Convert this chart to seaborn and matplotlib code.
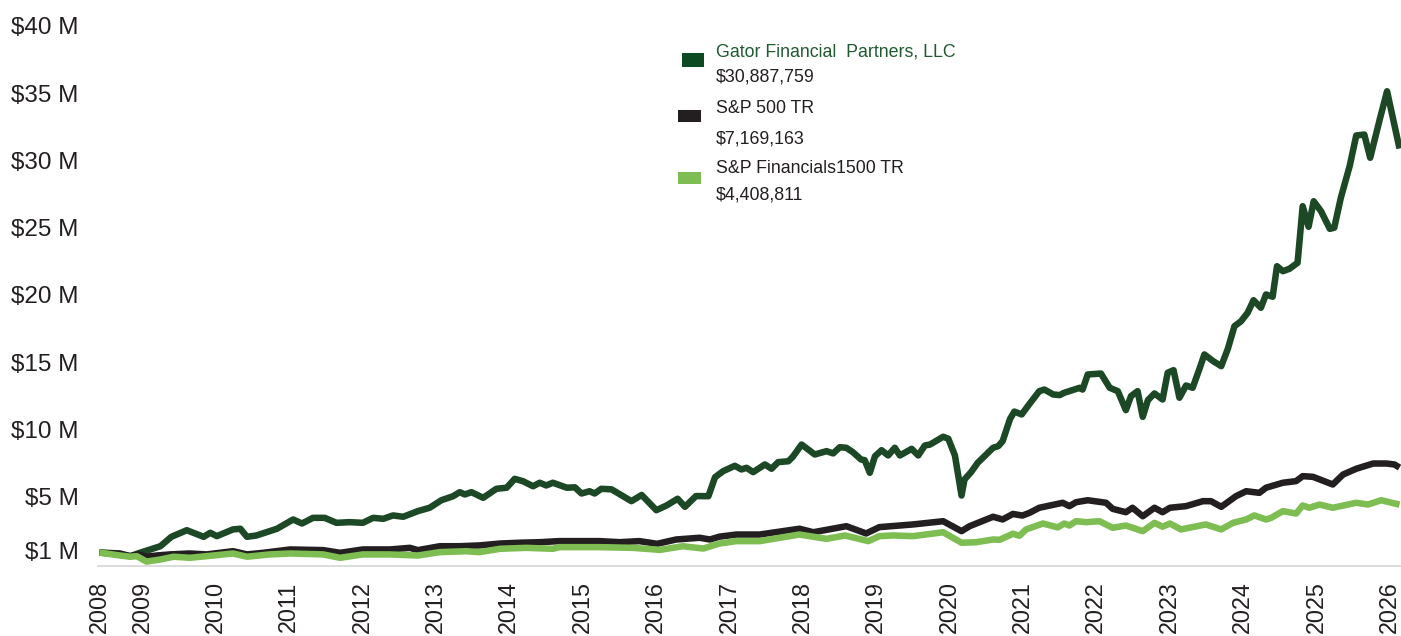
import matplotlib
matplotlib.use("Agg")
import matplotlib.pyplot as plt
from matplotlib.patches import Rectangle
from matplotlib import font_manager
import seaborn as sns
import pandas as pd

# ---------------- data (values in $ millions, x in decimal years) ----------------
gator_x = [2008.42, 2008.70, 2008.84, 2008.97, 2009.25, 2009.40, 2009.61, 2009.84, 2009.93, 2010.02,
           2010.24, 2010.34, 2010.43, 2010.56, 2010.84, 2011.06, 2011.18, 2011.33, 2011.49, 2011.65,
           2011.83, 2012.01, 2012.15, 2012.29, 2012.42, 2012.56, 2012.76, 2012.92, 2013.08, 2013.24,
           2013.33, 2013.40, 2013.49, 2013.65, 2013.83, 2013.97, 2014.08, 2014.19, 2014.33, 2014.42,
           2014.51, 2014.60, 2014.79, 2014.90, 2014.99, 2015.10, 2015.17, 2015.26, 2015.40, 2015.54,
           2015.67, 2015.81, 2016.01, 2016.15, 2016.30, 2016.40, 2016.55, 2016.72, 2016.81, 2016.92,
           2017.08, 2017.17, 2017.24, 2017.33, 2017.49, 2017.58, 2017.67, 2017.81, 2017.87, 2017.99,
           2018.17, 2018.33, 2018.42, 2018.51, 2018.60, 2018.69, 2018.80, 2018.85, 2018.92, 2018.99,
           2019.08, 2019.17, 2019.26, 2019.33, 2019.49, 2019.58, 2019.67, 2019.74, 2019.92, 2019.99,
           2020.08, 2020.17, 2020.21, 2020.30, 2020.39, 2020.60, 2020.67, 2020.73, 2020.83, 2020.89,
           2020.99, 2021.10, 2021.23, 2021.30, 2021.42, 2021.51, 2021.57, 2021.78, 2021.82, 2021.89,
           2022.07, 2022.19, 2022.30, 2022.41, 2022.48, 2022.57, 2022.64, 2022.71, 2022.80, 2022.91,
           2022.98, 2023.06, 2023.14, 2023.23, 2023.32, 2023.41, 2023.48, 2023.60, 2023.71, 2023.80,
           2023.89, 2023.98, 2024.07, 2024.15, 2024.25, 2024.32, 2024.41, 2024.47, 2024.55, 2024.64,
           2024.75, 2024.82, 2024.90, 2024.97, 2025.07, 2025.19, 2025.25, 2025.34, 2025.46, 2025.55,
           2025.66, 2025.74, 2025.87, 2025.97, 2026.14]
gator_v = [0.85, 0.71, 0.58, 0.83, 1.32, 2.02, 2.51, 2.02, 2.32, 2.07,
           2.57, 2.62, 2.02, 2.12, 2.62, 3.31, 3.01, 3.43, 3.43, 3.06,
           3.11, 3.06, 3.43, 3.36, 3.61, 3.51, 3.93, 4.18, 4.74, 5.04,
           5.34, 5.17, 5.34, 4.92, 5.59, 5.67, 6.33, 6.16, 5.78, 6.04,
           5.84, 6.04, 5.67, 5.70, 5.24, 5.41, 5.24, 5.59, 5.55, 5.09,
           4.67, 5.13, 4.00, 4.35, 4.85, 4.25, 5.05, 5.04, 6.45, 6.90,
           7.30, 7.03, 7.15, 6.83, 7.40, 7.08, 7.57, 7.64, 7.97, 8.88,
           8.14, 8.39, 8.22, 8.68, 8.64, 8.31, 7.77, 7.72, 6.78, 8.01,
           8.46, 8.07, 8.64, 8.07, 8.56, 8.07, 8.81, 8.88, 9.46, 9.31,
           8.07, 5.09, 6.28, 6.83, 7.52, 8.64, 8.76, 9.13, 10.77, 11.33,
           11.12, 11.93, 12.85, 12.97, 12.60, 12.56, 12.73, 13.10, 12.97, 14.09,
           14.16, 13.10, 12.85, 11.44, 12.48, 12.85, 10.94, 12.18, 12.68, 12.23,
           14.22, 14.41, 12.36, 13.27, 13.10, 14.46, 15.58, 15.08, 14.71, 16.00,
           17.68, 18.05, 18.68, 19.61, 19.05, 20.04, 19.87, 22.14, 21.77, 21.95,
           22.39, 26.60, 25.07, 26.97, 26.23, 24.92, 25.00, 27.23, 29.58, 31.86,
           31.93, 30.20, 33.05, 35.15, 30.89]

sp500_x = [2008.42, 2008.70, 2008.84, 2008.95, 2009.06, 2009.20, 2009.38, 2009.65, 2009.88, 2010.24,
           2010.43, 2010.65, 2011.02, 2011.47, 2011.70, 2012.01, 2012.38, 2012.65, 2012.76, 2013.06,
           2013.33, 2013.60, 2013.88, 2014.15, 2014.42, 2014.69, 2014.97, 2015.24, 2015.51, 2015.78,
           2016.02, 2016.28, 2016.60, 2016.74, 2016.87, 2017.10, 2017.42, 2017.96, 2018.15, 2018.60,
           2018.87, 2019.05, 2019.51, 2019.92, 2020.17, 2020.28, 2020.60, 2020.73, 2020.87, 2021.00,
           2021.10, 2021.23, 2021.55, 2021.64, 2021.73, 2021.89, 2022.14, 2022.23, 2022.41, 2022.50,
           2022.64, 2022.80, 2022.91, 2023.01, 2023.23, 2023.46, 2023.57, 2023.71, 2023.91, 2024.05,
           2024.23, 2024.32, 2024.55, 2024.73, 2024.82, 2024.96, 2025.23, 2025.37, 2025.55, 2025.78,
           2025.96, 2026.07, 2026.14]
sp500_v = [0.85, 0.78, 0.58, 0.71, 0.54, 0.63, 0.71, 0.78, 0.71, 0.95,
           0.71, 0.83, 1.08, 1.03, 0.83, 1.08, 1.08, 1.20, 1.03, 1.32,
           1.32, 1.38, 1.52, 1.58, 1.62, 1.70, 1.70, 1.70, 1.62, 1.70,
           1.50, 1.82, 1.95, 1.82, 2.03, 2.19, 2.19, 2.62, 2.36, 2.81,
           2.27, 2.74, 2.94, 3.18, 2.44, 2.81, 3.51, 3.31, 3.72, 3.60,
           3.81, 4.18, 4.55, 4.30, 4.59, 4.74, 4.55, 4.10, 3.85, 4.18,
           3.55, 4.18, 3.85, 4.18, 4.30, 4.67, 4.67, 4.25, 5.04, 5.41,
           5.29, 5.67, 6.04, 6.16, 6.53, 6.48, 5.91, 6.65, 7.08, 7.47,
           7.47, 7.40, 7.17]

fin_x = [2008.42, 2008.70, 2008.84, 2008.93, 2009.06, 2009.25, 2009.43, 2009.65, 2009.88, 2010.24,
         2010.43, 2010.74, 2011.02, 2011.47, 2011.70, 2012.01, 2012.38, 2012.76, 2013.06, 2013.42,
         2013.60, 2013.88, 2014.24, 2014.60, 2014.69, 2015.24, 2015.69, 2016.06, 2016.37, 2016.65,
         2016.87, 2017.10, 2017.42, 2017.96, 2018.33, 2018.58, 2018.90, 2019.05, 2019.24, 2019.51,
         2019.92, 2020.17, 2020.37, 2020.60, 2020.69, 2020.87, 2020.96, 2021.05, 2021.28, 2021.48,
         2021.57, 2021.64, 2021.73, 2021.87, 2022.05, 2022.23, 2022.41, 2022.64, 2022.80, 2022.91,
         2023.01, 2023.16, 2023.50, 2023.71, 2023.87, 2024.05, 2024.16, 2024.32, 2024.39, 2024.55,
         2024.73, 2024.82, 2024.91, 2025.05, 2025.23, 2025.55, 2025.71, 2025.89, 2026.14]
fin_v = [0.85, 0.63, 0.54, 0.58, 0.18, 0.33, 0.54, 0.46, 0.58, 0.78,
         0.54, 0.71, 0.78, 0.71, 0.46, 0.71, 0.71, 0.63, 0.88, 0.95,
         0.88, 1.13, 1.20, 1.13, 1.25, 1.25, 1.20, 1.05, 1.32, 1.15,
         1.52, 1.70, 1.70, 2.19, 1.87, 2.12, 1.70, 2.07, 2.12, 2.07,
         2.36, 1.58, 1.62, 1.82, 1.80, 2.25, 2.10, 2.57, 3.01, 2.72,
         3.01, 2.86, 3.18, 3.11, 3.18, 2.69, 2.86, 2.44, 3.06, 2.77,
         3.01, 2.57, 2.94, 2.57, 3.06, 3.31, 3.61, 3.31, 3.43, 3.93,
         3.75, 4.35, 4.18, 4.42, 4.18, 4.55, 4.42, 4.74, 4.41]

series_names = ["Gator Financial  Partners, LLC", "S&P 500 TR", "S&P Financials1500 TR"]
series_totals = ["$30,887,759", "$7,169,163", "$4,408,811"]
line_colors = ["#1c4826", "#231f20", "#7dbd52"]
square_colors = ["#0b4a22", "#231f20", "#7dbd52"]
label_colors = ["#1f5a30", "#231f20", "#231f20"]

y_ticks = [1, 5, 10, 15, 20, 25, 30, 35, 40]
y_tick_labels = ["$1 M", "$5 M", "$10 M", "$15 M", "$20 M", "$25 M", "$30 M", "$35 M", "$40 M"]
x_tick_labels = [str(y) for y in range(2008, 2027)]

# ---------------- figure ----------------
sns.set_style("white")
plt.rcParams["font.family"] = ["Liberation Sans", "DejaVu Sans"]

W, H = 1401, 636
fig = plt.figure(figsize=(W / 100, H / 100), dpi=100)
ax = fig.add_axes([98 / W, 1 - 566 / H, 1 - 98 / W, (566 - 26) / H])

df = pd.concat([
    pd.DataFrame({"year": gator_x, "value": gator_v, "series": series_names[0]}),
    pd.DataFrame({"year": sp500_x, "value": sp500_v, "series": series_names[1]}),
    pd.DataFrame({"year": fin_x, "value": fin_v, "series": series_names[2]}),
], ignore_index=True)

sns.lineplot(data=df, x="year", y="value", hue="series", hue_order=series_names,
             palette=dict(zip(series_names, line_colors)), linewidth=4.7,
             estimator=None, sort=False, legend=False, ax=ax,
             solid_joinstyle="round", solid_capstyle="butt")

ax.set_xlim(2008.40, 2026.16)
ax.set_ylim(-0.15, 40)
x_ticks = [gator_x[0]] + list(range(2009, 2027))
ax.set_xticks(x_ticks)
ax.set_xticklabels(x_tick_labels, rotation=90, fontsize=16.8, color="#231f20")
ax.set_yticks(y_ticks)
ax.set_yticklabels(y_tick_labels, fontsize=17.5, color="#231f20")
ax.tick_params(axis="both", length=0)
ax.tick_params(axis="y", pad=14)
ax.tick_params(axis="x", pad=11)
ax.set_xlabel("")
ax.set_ylabel("")
for s in ["top", "right", "left"]:
    ax.spines[s].set_visible(False)
ax.spines["bottom"].set_color("#d9d9d9")
ax.spines["bottom"].set_linewidth(1.3)
ax.grid(False)

# ---------------- legend (manual) ----------------
names = [f.name for f in font_manager.fontManager.ttflist]
if "Liberation Sans Narrow" in names:
    leg_family = ["Liberation Sans Narrow", "DejaVu Sans"]
    leg_size = 15
else:
    leg_family = ["Liberation Sans", "DejaVu Sans"]
    leg_size = 12.8

squares = [(682, 53, 22, 14), (678, 110, 23, 12), (678, 172, 23, 12)]
name_base = [56.7, 113, 173]
total_base = [81.7, 143, 200]
for i in range(3):
    x0, y0, w, h = squares[i]
    fig.add_artist(Rectangle((x0 / W, 1 - (y0 + h) / H), w / W, h / H,
                             transform=fig.transFigure, facecolor=square_colors[i],
                             edgecolor="none"))
    fig.text(716 / W, 1 - name_base[i] / H, series_names[i], color=label_colors[i],
             fontsize=leg_size, family=leg_family, va="baseline", ha="left")
    fig.text(716 / W, 1 - total_base[i] / H, series_totals[i], color="#231f20",
             fontsize=leg_size, family=leg_family, va="baseline", ha="left")

fig.savefig("out.png", dpi=100)
